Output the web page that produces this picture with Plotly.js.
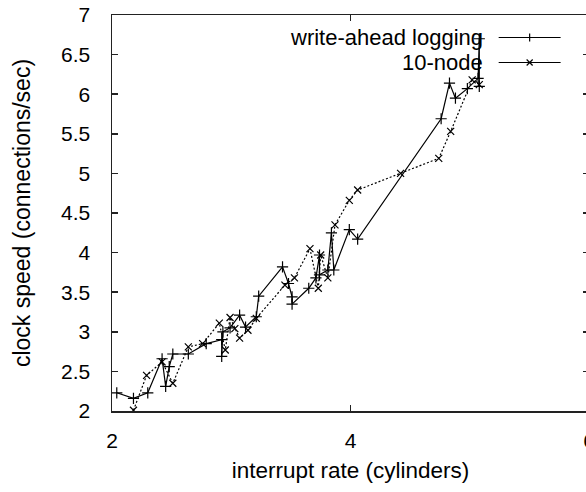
<!DOCTYPE html>
<html>
<head>
<meta charset="utf-8">
<script src="https://cdn.plot.ly/plotly-3.0.1.min.js"></script>
<style>
html,body{margin:0;padding:0;overflow:hidden;background:#fff;width:586px;height:492px;}
#chart{width:600px;height:492px;}
</style>
</head>
<body>
<div id="chart"></div>
<script>
// write-ahead logging (solid, "+")
const walX = [2.04,2.18,2.30,2.42,2.45,2.48,2.51,2.64,2.79,2.92,2.92,2.93,2.99,3.07,3.12,3.21,3.23,3.43,3.48,3.51,3.51,3.65,3.71,3.74,3.74,3.81,3.84,3.86,3.99,4.06,4.76,4.83,4.88,4.98,5.07,5.08,5.08];
const walY = [2.23,2.16,2.23,2.66,2.31,2.56,2.72,2.72,2.85,2.90,2.69,3.00,3.05,3.21,3.06,3.19,3.45,3.82,3.61,3.44,3.35,3.55,3.68,3.97,3.72,3.78,4.25,3.78,4.29,4.17,5.69,6.14,5.95,6.07,6.20,6.70,6.10];
// 10-node (dotted, "x")
const nodeX = [2.18,2.29,2.42,2.51,2.64,2.76,2.90,2.95,2.99,3.03,3.07,3.14,3.21,3.45,3.53,3.66,3.73,3.75,3.81,3.87,3.99,4.06,4.42,4.74,4.84,5.02,5.08];
const nodeY = [2.01,2.45,2.62,2.35,2.81,2.85,3.11,2.77,3.18,3.04,2.92,3.02,3.17,3.59,3.68,4.05,3.55,3.97,3.68,4.35,4.66,4.79,5.00,5.19,5.53,6.18,6.12];
const seriesNames = ["write-ahead logging", "10-node"];
const xTicks = [2, 4, 6];
const yTicks = [2, 2.5, 3, 3.5, 4, 4.5, 5, 5.5, 6, 6.5, 7];

const FONT = "Liberation Sans, Arial, sans-serif";
const W = 600, H = 492, ML = 112, MR = 10.6, MT = 15, MB = 81;
const PW = W - ML - MR, PH = H - MT - MB;
const px = v => (v - ML) / PW;
const py = v => (H - MB - v) / PH;

const traces = [
  {x: walX, y: walY, name: seriesNames[0], mode: 'lines+markers', type: 'scatter',
   line: {color: '#000', width: 1.2},
   marker: {symbol: 'cross-thin', size: 8, color: '#000', line: {color: '#000', width: 1.2}}},
  {x: nodeX, y: nodeY, name: seriesNames[1], mode: 'lines+markers', type: 'scatter',
   line: {color: '#000', width: 1.2, dash: '2px,2px'},
   marker: {symbol: 'x-thin', size: 7, color: '#000', line: {color: '#000', width: 1.2}}}
];

// legend drawn gnuplot-style: text right-aligned, sample on the right
const legY = [37, 62];
const annotations = [];
const shapes = [];
seriesNames.forEach((n, i) => {
  annotations.push({xref: 'paper', yref: 'paper', x: px(485), y: py(legY[i]), text: n,
    showarrow: false, xanchor: 'right', yanchor: 'middle', font: {family: FONT, size: 22, color: '#000'}});
  shapes.push({type: 'line', xref: 'paper', yref: 'paper', x0: px(499), x1: px(561), y0: py(legY[i]+0.5), y1: py(legY[i]+0.5),
    line: {color: '#000', width: 1.2}});
});
// legend markers
shapes.push({type: 'line', xref: 'paper', yref: 'paper', x0: px(530), x1: px(530), y0: py(legY[0]-3.5), y1: py(legY[0]+4.5), line: {color: '#000', width: 1.2}});
shapes.push({type: 'line', xref: 'paper', yref: 'paper', x0: px(527), x1: px(533), y0: py(legY[1]-2.5), y1: py(legY[1]+3.5), line: {color: '#000', width: 1.2}});
shapes.push({type: 'line', xref: 'paper', yref: 'paper', x0: px(527), x1: px(533), y0: py(legY[1]+3.5), y1: py(legY[1]-2.5), line: {color: '#000', width: 1.2}});

const axisCommon = {
  showgrid: false, zeroline: false, showline: true, linecolor: '#222', linewidth: 1.5,
  mirror: 'ticks', ticks: 'inside', ticklen: 6, tickwidth: 1.5, tickcolor: '#222',
  tickfont: {family: FONT, size: 21, color: '#000'}
};

const layout = {
  width: W, height: H,
  margin: {l: ML, r: MR, t: MT, b: MB, pad: 0},
  paper_bgcolor: '#fff', plot_bgcolor: '#fff',
  showlegend: false,
  xaxis: Object.assign({}, axisCommon, {range: [2, 6], tickvals: xTicks, ticktext: xTicks.map(String),
    ticklabelstandoff: 10,
    title: {text: 'interrupt rate (cylinders)', font: {family: FONT, size: 22.5, color: '#000'}, standoff: 11}}),
  yaxis: Object.assign({}, axisCommon, {range: [2, 7], tickvals: yTicks, ticktext: yTicks.map(String),
    ticklabelstandoff: 16,
    title: {text: 'clock speed (connections/sec)', font: {family: FONT, size: 23, color: '#000'}, standoff: 24}}),
  annotations: annotations,
  shapes: shapes
};

Plotly.newPlot('chart', traces, layout, {displayModeBar: false, staticPlot: true});
</script>
</body>
</html>
